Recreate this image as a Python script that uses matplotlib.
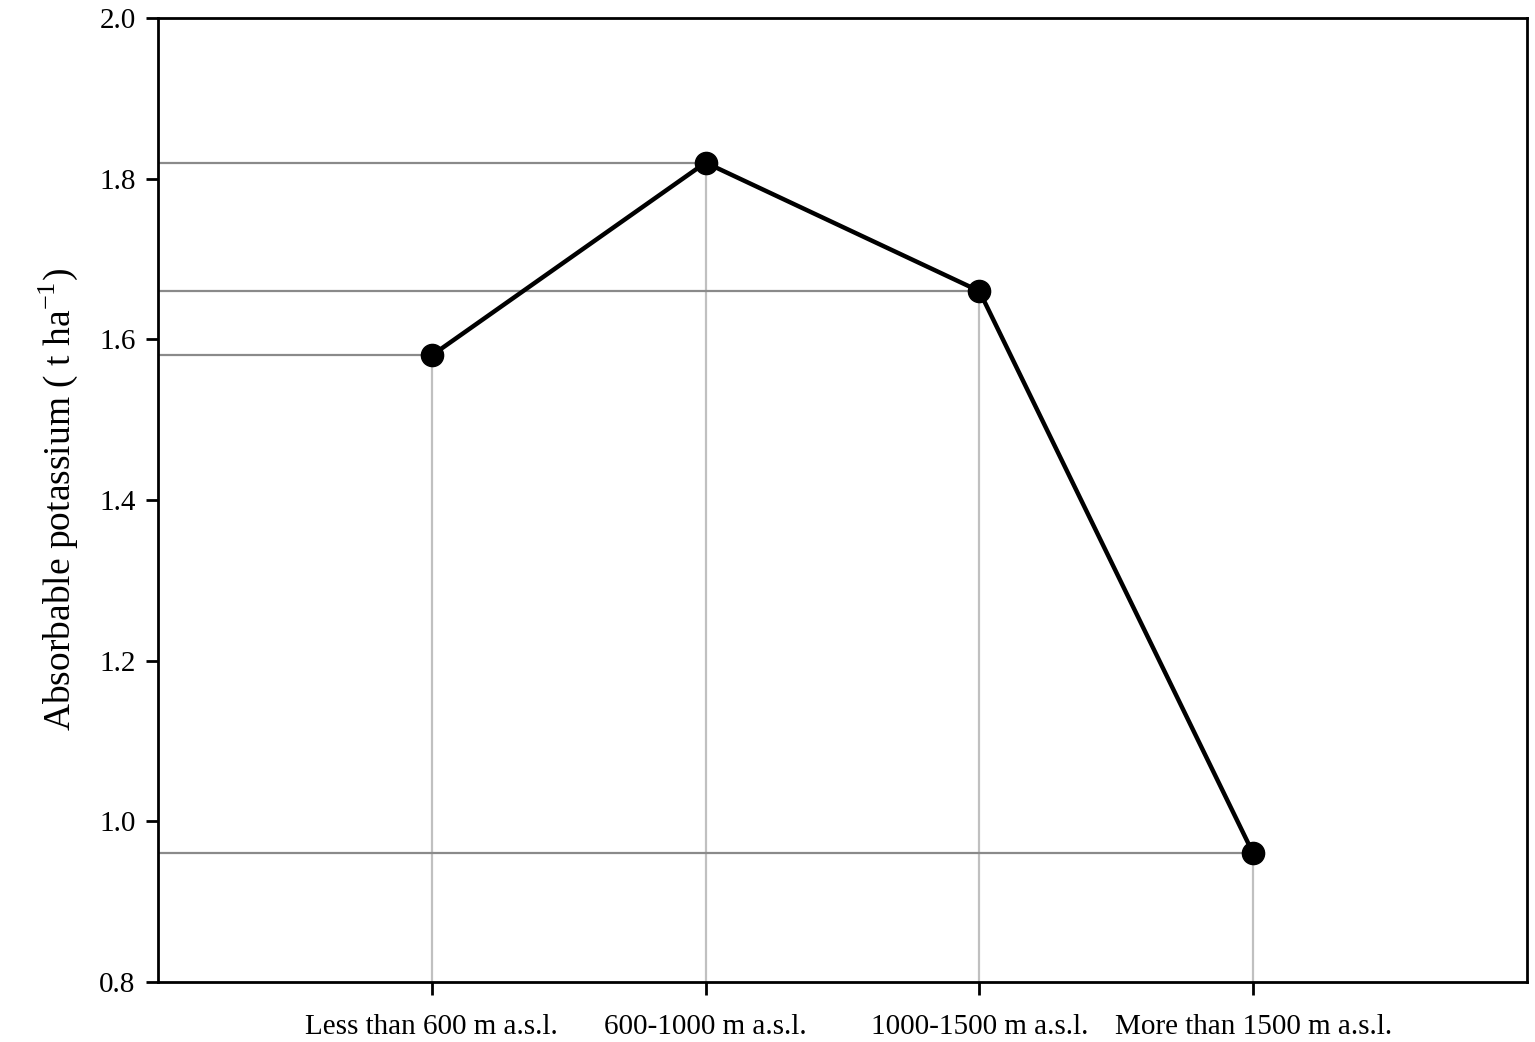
import matplotlib.pyplot as plt

categories = ["Less than 600 m a.s.l.", "600-1000 m a.s.l.",
              "1000-1500 m a.s.l.", "More than 1500 m a.s.l."]
potassium = [1.58, 1.82, 1.66, 0.96]

plt.rcParams['font.family'] = ['Liberation Serif', 'DejaVu Serif']
plt.rcParams['mathtext.fontset'] = 'custom'
plt.rcParams['mathtext.rm'] = 'Liberation Serif'

fig = plt.figure(figsize=(15.35, 10.42), dpi=100)
ax = fig.add_axes([0.1029, 0.0576, 0.8919, 0.9251])

x = list(range(1, len(categories) + 1))

# guide lines from the axes to each point
for xi, yi in zip(x, potassium):
    ax.plot([0, xi], [yi, yi], color='#8a8a8a', lw=1.6, zorder=1)
    ax.plot([xi, xi], [0.8, yi], color='#c0c0c0', lw=1.6, zorder=1)

ax.plot(x, potassium, color='black', lw=3.2, marker='o', markersize=16, zorder=3)

ax.set_xlim(0, 5)
ax.set_ylim(0.8, 2.0)
ax.set_xticks(x)
ax.set_xticklabels(categories, fontsize=21)
ax.set_yticks([0.8, 1.0, 1.2, 1.4, 1.6, 1.8, 2.0])
ax.set_yticklabels(["0.8", "1.0", "1.2", "1.4", "1.6", "1.8", "2.0"], fontsize=21)
ax.tick_params(direction='out', length=9, width=2, pad=7)
ax.tick_params(axis='x', pad=14)
for s in ax.spines.values():
    s.set_linewidth(2)

ax.set_ylabel("Absorbable potassium ( t ha$^{-1}$)", fontsize=27, labelpad=14)

fig.savefig("out.png", dpi=100)
